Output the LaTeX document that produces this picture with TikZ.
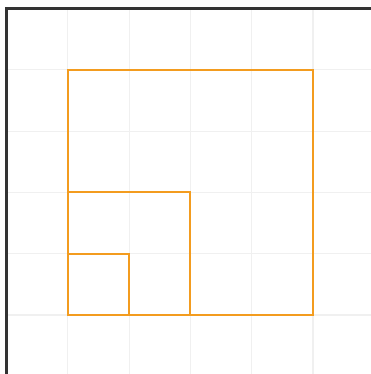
\documentclass[tikz,border=0pt]{standalone}
\definecolor{sqorange}{HTML}{F39C1F}
\definecolor{gridgray}{HTML}{F0F0F0}
\definecolor{framegray}{HTML}{333333}
\tikzset{
  sq/.style={draw=sqorange, line width=1pt},
  gridline/.style={draw=gridgray, line width=0.5pt},
  frameline/.style={draw=framegray, line width=1pt}
}
\begin{document}
\begin{tikzpicture}
\useasboundingbox (-0.106,0.038) rectangle (5.946,6.139);
\clip (-0.106,0.038) rectangle (5.946,6.139);
\fill[white] (-0.106,0.038) rectangle (5.946,6.139);
\foreach \i in {1,...,5} {
  \draw[gridline] (\i,0) -- (\i,6);
  \draw[gridline] (0,\i) -- (6,\i);
}
\draw[frameline] (0,0) rectangle (6,6);
\draw[sq] (1,1) rectangle (5,5);
\draw[sq] (1,1) rectangle (3,3);
\draw[sq] (1,1) rectangle (2,2);
\end{tikzpicture}
\end{document}
